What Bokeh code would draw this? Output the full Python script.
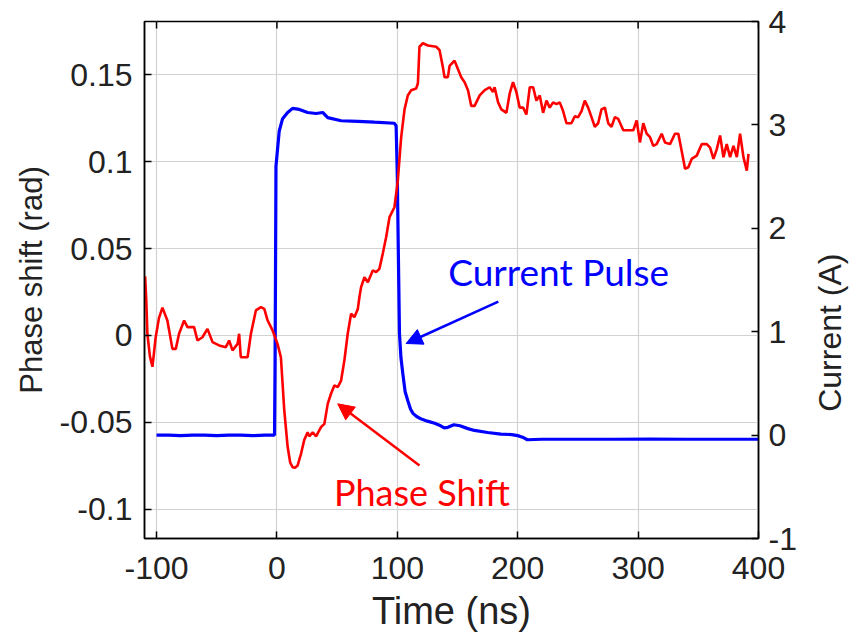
import math
from bokeh.plotting import figure
from bokeh.layouts import row
from bokeh.models import (LinearAxis, Range1d, FixedTicker, Arrow, NormalHead, Label)
from bokeh.embed import file_html
from bokeh.resources import INLINE

# ---------------- data ----------------
x_ticks = [-100, 0, 100, 200, 300, 400]
x_tick_labels = ["-100", "0", "100", "200", "300", "400"]
left_ticks = [-0.1, -0.05, 0, 0.05, 0.1, 0.15]
left_tick_labels = ["-0.1", "-0.05", "0", "0.05", "0.1", "0.15"]
right_ticks = [-1, 0, 1, 2, 3, 4]
right_tick_labels = ["-1", "0", "1", "2", "3", "4"]

current_t = [-100, -90, -80, -70, -60, -50, -40, -30, -20, -10, -2, -1.6, -1.2, -0.8,
             1.9, 4.7, 8.9, 13, 18.6, 25.5, 32.5, 38, 42.2, 53.3, 67.2, 81, 97.6, 99,
             100, 100.8, 101.8, 103, 104.6, 106.5, 108.8, 111, 113, 116, 120, 125, 131,
             136, 139, 142, 147, 152, 158, 164, 175, 186, 195, 200, 204, 208, 220, 250,
             280, 310, 340, 370, 400]
current_a = [0.0, 0.0, -0.005, 0.0, 0.0, -0.005, 0.0, 0.0, -0.005, 0.0, 0.0, 0.6, 1.53, 2.6,
             2.94, 3.06, 3.12, 3.16, 3.15, 3.12, 3.11, 3.12, 3.07, 3.04, 3.035, 3.026, 3.016, 2.99,
             2.5, 1.8, 0.98, 0.75, 0.59, 0.42, 0.33, 0.25, 0.21, 0.18, 0.155, 0.135, 0.115,
             0.09, 0.07, 0.075, 0.10, 0.09, 0.065, 0.045, 0.025, 0.01, 0.005, -0.005, -0.02,
             -0.045, -0.04, -0.04, -0.04, -0.038, -0.04, -0.04, -0.04]

phase_t = [-109.5, -108.5, -107.6, -105.5, -103.4, -100.7, -98, -95.1, -91, -86.8, -84, -81.3,
           -77.1, -74.3, -68.8, -66, -61.9, -57.7, -53.5, -48, -42.4, -39.7, -36.9, -32.7,
           -31.4, -30, -24.4, -21.6, -17.5, -13.3, -10.5, -7.7, -3.6, 0.5, 3.3, 6.1, 8.9, 11,
           13, 15, 17.2, 20, 22.7, 25.5, 26.9, 29.7, 32.5, 36.6, 39.4, 42.2, 44.9, 47.7, 50.5,
           53.3, 56, 58.8, 61.6, 64.3, 67.2, 68.5, 69.9, 72.7, 75.5, 79.6, 82.4, 85.1, 87.9,
           90.7, 93.5, 97.6, 100.4, 103.2, 106, 108.7, 111.5, 115.7, 117.1, 118.4, 121.2, 125.4,
           132.3, 135.1, 137.9, 139.2, 142, 143.4, 147.5, 150.4, 153.1, 155.9, 158.7, 161.4,
           164.2, 168.4, 172.6, 176.7, 179.5, 180.8, 183.7, 186.4, 190.6, 193.3, 196.1, 198.9,
           201.6, 204.5, 207.2, 210, 212.8, 215.5, 218.3, 221.1, 223.9, 226.6, 229.4, 232.2,
           234.9, 237.7, 240.5, 244.6, 247.4, 250.2, 253, 255.7, 258.5, 261.3, 264, 266.8,
           269.6, 272.4, 275.2, 277.9, 280.7, 283.5, 287.7, 291.8, 296, 298.8, 301.5, 304.3,
           307.1, 309.9, 312.6, 315.4, 319.6, 322.3, 326.5, 330.6, 333.4, 336.2, 339, 341.7,
           344.5, 348.7, 352.8, 357, 359.8, 362.6, 365.3, 368.1, 370.9, 373.6, 376.4, 379.2,
           382, 384.7, 387.5, 390.3, 391.7]
phase_rad = [0.034, 0.02, 0.001, -0.012, -0.018, -0.001, 0.01, 0.016, 0.0086, -0.0077, -0.0077, 0.001,
             0.0086, 0.0048, 0.0048, -0.0029, -0.001, 0.0038, -0.0038, -0.0057, -0.0067, -0.0029, -0.0086, -0.0048,
             0.001, -0.0125, -0.0125, 0.001, 0.0144, 0.0163, 0.0153, 0.0086, 0.0029, -0.0048, -0.0125, -0.043, -0.064, -0.073,
             -0.0757, -0.076, -0.0747, -0.068, -0.060, -0.0556, -0.058, -0.0556, -0.058, -0.0527, -0.0508, -0.0393, -0.0335, -0.0287, -0.0297,
             -0.0259, -0.0144, 0.001, 0.0125, 0.0105, 0.0153, 0.022, 0.0278, 0.0335, 0.0306, 0.0374, 0.0364, 0.0383, 0.047,
             0.0565, 0.068, 0.0737, 0.089, 0.114, 0.130, 0.138, 0.141, 0.142, 0.145, 0.166, 0.168, 0.1667,
             0.166, 0.164, 0.154, 0.1485, 0.1485, 0.155, 0.158, 0.153, 0.1485, 0.1456, 0.141, 0.132,
             0.132, 0.138, 0.141, 0.1427, 0.14, 0.1427, 0.134, 0.130, 0.128, 0.139, 0.1456, 0.14,
             0.131, 0.131, 0.127, 0.1427, 0.1427, 0.135, 0.138, 0.128, 0.135, 0.131, 0.134, 0.133,
             0.134, 0.129, 0.122, 0.122, 0.126, 0.1255, 0.129, 0.135, 0.131, 0.1255, 0.12, 0.122,
             0.130, 0.131, 0.122, 0.12, 0.1255, 0.1245, 0.118, 0.118, 0.118, 0.1236, 0.111, 0.122,
             0.116, 0.114, 0.109, 0.110, 0.116, 0.111, 0.110, 0.116, 0.116, 0.106, 0.0958, 0.0967,
             0.1015, 0.1034, 0.110, 0.110, 0.108, 0.1015, 0.107, 0.115, 0.1025, 0.110, 0.1025, 0.109,
             0.1025, 0.116, 0.1025, 0.0948, 0.1044]

# ---------------- figure ----------------
AXFONT = "Liberation Sans"
ANNFONT = "Lato"
Y_LO, Y_HI = -0.1167, 0.1805
H = 638

p = figure(width=815, height=H, x_range=Range1d(-110, 400), y_range=Range1d(Y_LO, Y_HI),
           output_backend="svg", toolbar_location=None,
           min_border_left=144, min_border_right=57, min_border_top=21, min_border_bottom=100,
           background_fill_color="white", border_fill_color="white")
p.extra_y_ranges = {"cur": Range1d(-1, 4)}

p.outline_line_color = "black"
p.outline_line_width = 1.5

def style_axis(ax, ticks, labels):
    ax.ticker = FixedTicker(ticks=ticks)
    ax.major_label_overrides = {t: s for t, s in zip(ticks, labels)}
    ax.minor_tick_line_color = None
    ax.major_tick_in = 7
    ax.major_tick_out = 0
    ax.major_tick_line_width = 1.5
    ax.major_tick_line_color = "black"
    ax.axis_line_color = "black"
    ax.axis_line_width = 1.5
    ax.major_label_text_font = AXFONT
    ax.major_label_text_font_size = "32px"
    ax.major_label_text_color = "#222222"
    ax.axis_label_text_font = AXFONT
    ax.axis_label_text_font_size = "31px"
    ax.axis_label_text_font_style = "normal"
    ax.axis_label_text_color = "#222222"

xa = p.xaxis[0]
style_axis(xa, x_ticks, x_tick_labels)
xa.axis_label = "Time (ns)"
xa.axis_label_text_font_size = "38px"
xa.major_label_standoff = 18
xa.axis_label_standoff = 8

ya = p.yaxis[0]
style_axis(ya, left_ticks, left_tick_labels)
ya.axis_label = "Phase shift (rad)"
ya.major_label_standoff = 12
ya.axis_label_standoff = 8

ra = LinearAxis(y_range_name="cur")
style_axis(ra, right_ticks, right_tick_labels)
ra.major_label_standoff = 10
p.add_layout(ra, "right")

p.xgrid.ticker = FixedTicker(ticks=x_ticks)
p.ygrid.ticker = FixedTicker(ticks=left_ticks)
for g in (p.xgrid[0], p.ygrid[0]):
    g.grid_line_color = "#d2d2d2"
    g.grid_line_width = 1.2

# inward tick marks on the top edge of the box
tick_len = (Y_HI - Y_LO) * 7 / 517
p.segment(x0=x_ticks, y0=[Y_HI] * len(x_ticks), x1=x_ticks, y1=[Y_HI - tick_len] * len(x_ticks),
          line_color="black", line_width=1.5)

p.line(current_t, current_a, y_range_name="cur", line_color="#0000ff", line_width=3.2)
p.line(phase_t, phase_rad, line_color="#ff0000", line_width=2.6)

p.add_layout(Arrow(end=NormalHead(size=16, fill_color="#0000ff", line_color="#0000ff"),
                   x_start=183.9, y_start=0.0195, x_end=107.3, y_end=-0.0046,
                   line_color="#0000ff", line_width=2.5))
p.add_layout(Arrow(end=NormalHead(size=16, fill_color="#ff0000", line_color="#ff0000"),
                   x_start=118.4, y_start=-0.0747, x_end=50.5, y_end=-0.0393,
                   line_color="#ff0000", line_width=2.5))

p.add_layout(Label(x=142.3, y=0.0368, text="Current Pulse", text_color="#0000ff",
                   text_font=ANNFONT, text_font_size="37px", text_baseline="alphabetic"))
p.add_layout(Label(x=47.4, y=-0.0902, text="Phase Shift", text_color="#ff0000",
                   text_font=ANNFONT, text_font_size="36px", text_baseline="alphabetic"))

# narrow strip on the right carrying the right-hand axis title (reads bottom-to-top)
p2 = figure(width=34, height=H, x_range=Range1d(0, 1), y_range=Range1d(0, H),
            output_backend="svg", toolbar_location=None, min_border=0,
            background_fill_color="white", border_fill_color="white")
p2.outline_line_color = None
p2.axis.visible = False
p2.grid.visible = False
p2.add_layout(Label(x=0.42, y=254, text="Current (A)", angle=math.pi / 2,
                    text_font=AXFONT, text_font_size="32px", text_color="#222222",
                    text_align="center", text_baseline="middle"))

open("out.html", "w").write(file_html(row(p, p2), INLINE))
